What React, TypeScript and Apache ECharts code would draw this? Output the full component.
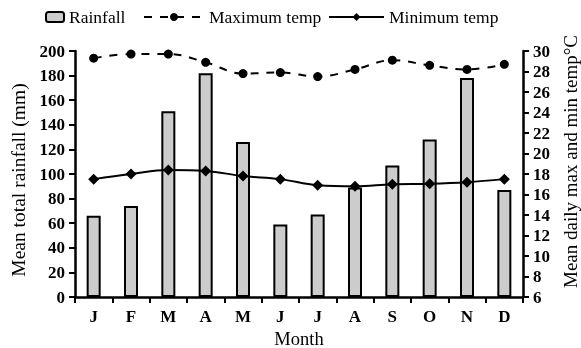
import React, { useEffect, useRef } from "react";
import * as echarts from "echarts";

const months = ["J", "F", "M", "A", "M", "J", "J", "A", "S", "O", "N", "D"];
const rainfall = [66, 74, 151, 182, 126, 59, 67, 89, 107, 128, 178, 87];
const maxTemp = [29.3, 29.7, 29.7, 28.9, 27.8, 27.9, 27.5, 28.2, 29.1, 28.6, 28.2, 28.7];
const minTemp = [17.5, 18.0, 18.4, 18.3, 17.8, 17.5, 16.9, 16.8, 17.0, 17.05, 17.2, 17.5];

const FONT = "Liberation Serif";

export default function App() {
  const ref = useRef<HTMLDivElement>(null);
  useEffect(() => {
    if (!ref.current) return;
    const chart = echarts.init(ref.current, undefined, { renderer: "svg" });
    const axisLine = { show: true, lineStyle: { color: "#000", width: 2.5 } };
    const legendText = { fontFamily: FONT, fontSize: 17.5, color: "#000" };
    chart.setOption({
      animation: false,
      textStyle: { fontFamily: FONT, color: "#000" },
      legend: [
        { data: ["Rainfall"], left: 45, top: 8, padding: 0, itemWidth: 18, itemHeight: 10, textStyle: legendText },
        { data: ["Maximum temp"], left: 143, top: 8, padding: 0, itemWidth: 60, itemHeight: 10, textStyle: legendText },
        { data: ["Minimum temp"], left: 328, top: 8, padding: 0, itemWidth: 55, itemHeight: 10, textStyle: legendText },
      ],
      grid: { left: 75, right: 58, top: 51, bottom: 51, outerBoundsMode: "none", containLabel: false },
      xAxis: {
        type: "category",
        data: months,
        name: "Month",
        nameLocation: "middle",
        nameGap: 26,
        nameTextStyle: { fontFamily: FONT, fontSize: 18.5, color: "#000", lineHeight: 18 },
        axisLine,
        axisTick: { show: true, length: 6, lineStyle: { color: "#000", width: 2 } },
        axisLabel: { fontFamily: FONT, fontSize: 17, fontWeight: "bold", color: "#000", margin: 11 },
      },
      yAxis: [
        {
          type: "value", min: 0, max: 200, interval: 20,
          name: "Mean total rainfall (mm)", nameLocation: "middle", nameRotate: 90, nameGap: 41,
          nameTextStyle: { fontFamily: FONT, fontSize: 19.5, color: "#000", padding: [0, 12, 0, 0] },
          axisLine,
          axisTick: { show: true, length: 6, lineStyle: { color: "#000", width: 2 } },
          axisLabel: { fontFamily: FONT, fontSize: 17, fontWeight: "bold", color: "#000", margin: 10 },
          splitLine: { show: false },
        },
        {
          type: "value", min: 6, max: 30, interval: 2, position: "right",
          name: "Mean daily max and min temp°C", nameLocation: "middle", nameRotate: 90, nameGap: 37,
          nameTextStyle: { fontFamily: FONT, fontSize: 19, color: "#000", padding: [0, 0, 0, 25] },
          axisLine,
          axisTick: { show: true, length: 6, lineStyle: { color: "#000", width: 2 } },
          axisLabel: { fontFamily: FONT, fontSize: 17, fontWeight: "bold", color: "#000", margin: 10 },
          splitLine: { show: false },
        },
      ],
      series: [
        { name: "Rainfall", type: "bar", data: rainfall, barWidth: 14, itemStyle: { color: "#cccccc", borderColor: "#000", borderWidth: 2 } },
        {
          name: "Maximum temp", type: "line", yAxisIndex: 1, data: maxTemp, smooth: 0.4,
          symbol: "circle", symbolSize: 9, itemStyle: { color: "#000" },
          lineStyle: { color: "#000", width: 2, type: [8, 8] },
        },
        {
          name: "Minimum temp", type: "line", yAxisIndex: 1, data: minTemp, smooth: 0.4,
          symbol: "diamond", symbolSize: 11, itemStyle: { color: "#000" },
          lineStyle: { color: "#000", width: 2 },
        },
      ],
    });
    return () => chart.dispose();
  }, []);
  return <div ref={ref} style={{ position: "fixed", left: 0, top: 0, width: 581, height: 348 }} />;
}
